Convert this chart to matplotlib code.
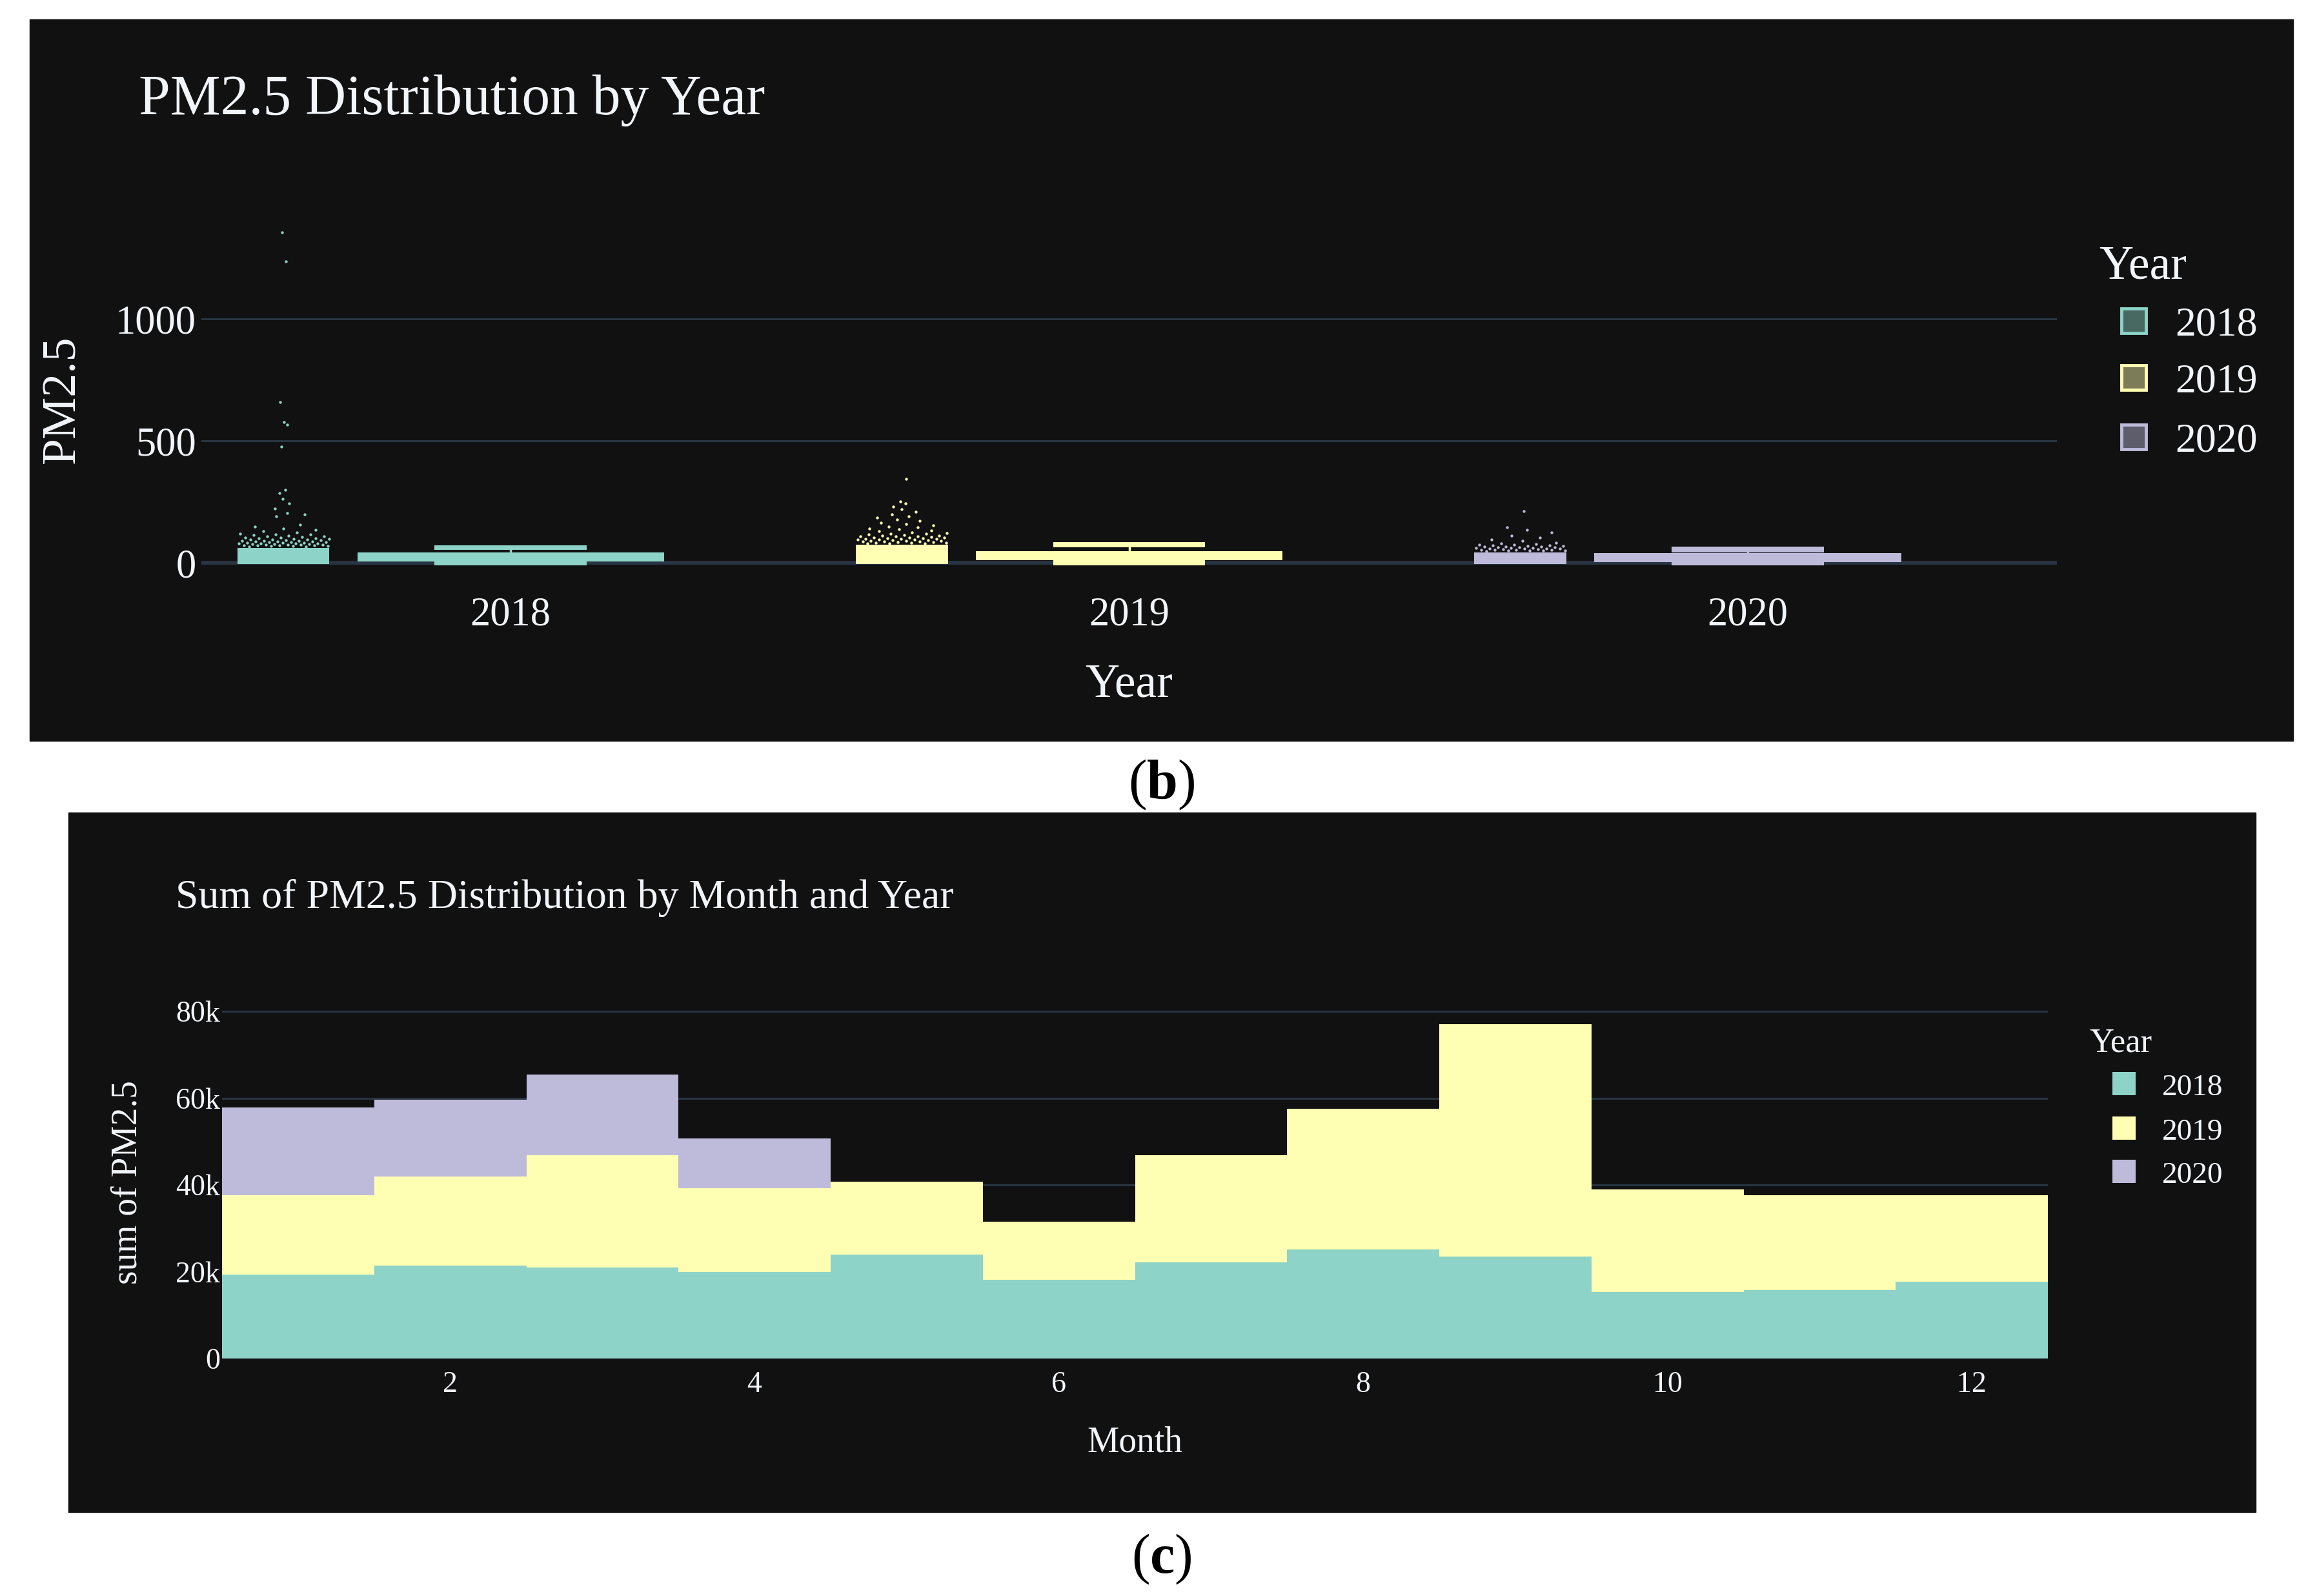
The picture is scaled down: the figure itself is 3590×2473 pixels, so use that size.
import numpy as np
import matplotlib.pyplot as plt
from matplotlib.patches import Rectangle
from matplotlib.ticker import FuncFormatter

plt.rcParams['font.family'] = ['Liberation Serif', 'DejaVu Serif']
plt.rcParams['mathtext.fontset'] = 'custom'
plt.rcParams['mathtext.rm'] = 'Liberation Serif'
plt.rcParams['mathtext.bf'] = 'Liberation Serif:bold'

# ---- data ----
years = ['2018', '2019', '2020']
colors = ['#8dd3c7', '#ffffb3', '#bebada']

# panel (b): box shapes per year (PM2.5)
box_q1 = [7, 12, 4]
box_q3 = [42, 49, 40]
cap_lo = [55, 65, 44]
cap_hi = [73, 86, 66]
base_lo = [-10, -11, -10]
base_hi = [7, 12, 4]

# dense core of the point strip and the scattered points above it
core_top = [66, 78, 48]
dense_top = [121, 120, 77]
pts_2018 = [67, 68, 69, 70, 70, 71, 72, 72, 73, 74, 75, 75, 76, 77, 78, 78, 79, 80,
            81, 81, 82, 83, 84, 85, 86, 86, 87, 88, 89, 90, 91, 92, 93, 94, 95, 96,
            97, 98, 100, 101, 102, 104, 105, 106, 108, 110, 112, 114, 116, 118, 121,
            125, 130, 136, 142, 150, 158, 192, 198, 205, 224, 243, 262, 287, 300,
            476, 568, 578, 659, 1236, 1356]
pts_2019 = [79, 80, 81, 82, 83, 84, 85, 86, 87, 88, 89, 90, 91, 92, 93, 94, 95, 96,
            97, 98, 99, 100, 101, 102, 103, 104, 105, 106, 108, 109, 110, 111, 113,
            115, 117, 119, 120, 123, 126, 130, 134, 138, 142, 146, 150, 155, 160,
            165, 172, 178, 185, 192, 200, 210, 220, 232, 245, 253, 346]
pts_2020 = [49, 50, 51, 52, 52, 53, 54, 55, 55, 56, 57, 58, 58, 59, 60, 61, 62, 62,
            63, 64, 65, 66, 67, 68, 69, 70, 71, 72, 74, 75, 77, 80, 84, 90, 97, 105,
            112, 125, 137, 147, 213]
points = [pts_2018, pts_2019, pts_2020]

# panel (c): sum of PM2.5 by month
months = np.arange(1, 13)
sum_2018 = [19300, 21400, 20900, 19900, 24000, 18100, 22100, 25200, 23500, 15300, 15800, 17700]
sum_2019 = [18300, 20600, 26000, 19300, 16800, 13500, 24800, 32400, 53600, 23600, 21800, 19900]
sum_2020 = [20200, 17700, 18600, 11500, 0, 0, 0, 0, 0, 0, 0, 0]

W, H = 3590, 2473
BG = '#111111'
GRID = '#283442'
FG = '#f2f5fa'


def fx(x):
    return x / W


def fy(y):
    return 1 - y / H


fig = plt.figure(figsize=(W / 100, H / 100), dpi=100, facecolor='white')

# dark panel backgrounds
fig.patches.append(Rectangle((fx(46), fy(1148)), (3553 - 46) / W, (1148 - 30) / H,
                             transform=fig.transFigure, color=BG, zorder=-2))
fig.patches.append(Rectangle((fx(106), fy(2343)), (3495 - 106) / W, (2343 - 1259) / H,
                             transform=fig.transFigure, color=BG, zorder=-2))

# ================= panel (b) =================
ax1 = fig.add_axes([fx(312), fy(889.3), (3187 - 312) / W, (889.3 - 335.8) / H])
ax1.set_facecolor(BG)
ax1.set_xlim(-0.5, 2.5)
ax1.set_ylim(-45, 1420)
for s in ax1.spines.values():
    s.set_visible(False)
ax1.set_yticks([0, 500, 1000])
ax1.set_xticks([0, 1, 2])
ax1.set_xticklabels(years)
ax1.grid(axis='y', color=GRID, lw=2.2)
ax1.set_axisbelow(True)
ax1.axhline(0, color=GRID, lw=4.3, zorder=1)
ax1.tick_params(axis='both', length=0, labelsize=45, colors=FG)
ax1.tick_params(axis='y', pad=5.8)
ax1.tick_params(axis='x', pad=25)

strip_lo, strip_hi = -0.442, -0.293
strip_c = (strip_lo + strip_hi) / 2
strip_w = strip_hi - strip_lo
for i, c in enumerate(colors):
    # strip of points
    ax1.bar(i + strip_c, core_top[i], width=strip_w, bottom=-4, color=c, lw=0, zorder=3)
    p = np.array(points[i], dtype=float)
    frac = (np.arange(len(p)) * 0.618034 + 0.13) % 1 - 0.5
    spread = np.clip(1.0 - (p - dense_top[i]) / 150.0, 0.1, 1.0)
    ax1.scatter(i + strip_c + strip_w * frac * spread, p, s=10, color=c,
                lw=0, zorder=3)
    # box
    ax1.bar(i, box_q3[i] - box_q1[i], bottom=box_q1[i], width=0.496, color=c, lw=0, zorder=3)
    ax1.bar(i, cap_hi[i] - cap_lo[i], bottom=cap_lo[i], width=0.246, color=c, lw=0, zorder=3)
    ax1.bar(i, base_hi[i] - base_lo[i], bottom=base_lo[i], width=0.246, color=c, lw=0, zorder=3)
    ax1.plot([i, i], [box_q3[i], cap_lo[i]], color=c, lw=2.5, zorder=3)

fig.text(fx(215), fy(177.5), 'PM2.5 Distribution by Year', fontsize=63, color=FG,
         ha='left', va='baseline')
fig.text(fx(1749.5), fy(1079), 'Year', fontsize=53, color=FG, ha='center', va='baseline')
fig.text(fx(115), fy(619), 'PM2.5', fontsize=53, color=FG, ha='center', va='baseline',
         rotation=90, rotation_mode='anchor')

# legend (b)
fig.text(fx(3252), fy(432), 'Year', fontsize=53, color=FG, ha='left', va='baseline')
leg_b = [520, 608, 700]
for i, c in enumerate(colors):
    yb = leg_b[i]
    fig.patches.append(Rectangle((fx(3287), fy(yb - 4)), 38 / W, 38 / H,
                                 transform=fig.transFigure, facecolor=c, alpha=0.45,
                                 lw=0, zorder=1))
    fig.patches.append(Rectangle((fx(3287), fy(yb - 4)), 38 / W, 38 / H,
                                 transform=fig.transFigure, facecolor='none',
                                 edgecolor=c, lw=3.5, zorder=2))
    fig.text(fx(3370), fy(yb), years[i], fontsize=46, color=FG, ha='left', va='baseline')

# ================= panel (c) =================
ax2 = fig.add_axes([fx(344), fy(2105), (3173 - 344) / W, (2105 - 1559) / H])
ax2.set_facecolor(BG)
ax2.set_xlim(0.5, 12.5)
ax2.set_ylim(0, 81200)
for s in ax2.spines.values():
    s.set_visible(False)
ax2.set_yticks([0, 20000, 40000, 60000, 80000])
ax2.yaxis.set_major_formatter(FuncFormatter(lambda v, _: '0' if v == 0 else f'{int(v / 1000)}k'))
ax2.set_xticks([2, 4, 6, 8, 10, 12])
ax2.grid(axis='y', color=GRID, lw=2.2)
ax2.set_axisbelow(True)
ax2.tick_params(axis='both', length=0, labelsize=33, colors=FG)
ax2.tick_params(axis='y', pad=2)
ax2.tick_params(axis='x', pad=14)

bottom = np.zeros(12)
for vals, c in zip([sum_2018, sum_2019, sum_2020], colors):
    ax2.bar(months, vals, width=1.0, bottom=bottom, color=c, lw=0, zorder=3)
    bottom = bottom + np.array(vals)

fig.text(fx(272), fy(1407), 'Sum of PM2.5 Distribution by Month and Year', fontsize=46,
         color=FG, ha='left', va='baseline')
fig.text(fx(1758.5), fy(2249), 'Month', fontsize=40, color=FG, ha='center', va='baseline')
fig.text(fx(212), fy(1832), 'sum of PM2.5', fontsize=40, color=FG, ha='center',
         va='baseline', rotation=90, rotation_mode='anchor')

# legend (c)
fig.text(fx(3237), fy(1630), 'Year', fontsize=38, color=FG, ha='left', va='baseline')
leg_c = [1697, 1766, 1833]
for i, c in enumerate(colors):
    yb = leg_c[i]
    fig.patches.append(Rectangle((fx(3273), fy(yb)), 36 / W, 36 / H,
                                 transform=fig.transFigure, facecolor=c, lw=0, zorder=1))
    fig.text(fx(3350), fy(yb), years[i], fontsize=34, color=FG, ha='left', va='baseline')

# sub-figure labels
fig.text(fx(1800), fy(1237), r'($\mathbf{b}$)', fontsize=62, color='black',
         ha='center', va='baseline')
fig.text(fx(1800), fy(2437), r'($\mathbf{c}$)', fontsize=62, color='black',
         ha='center', va='baseline')

fig.savefig('out.png', dpi=100, facecolor='white')
